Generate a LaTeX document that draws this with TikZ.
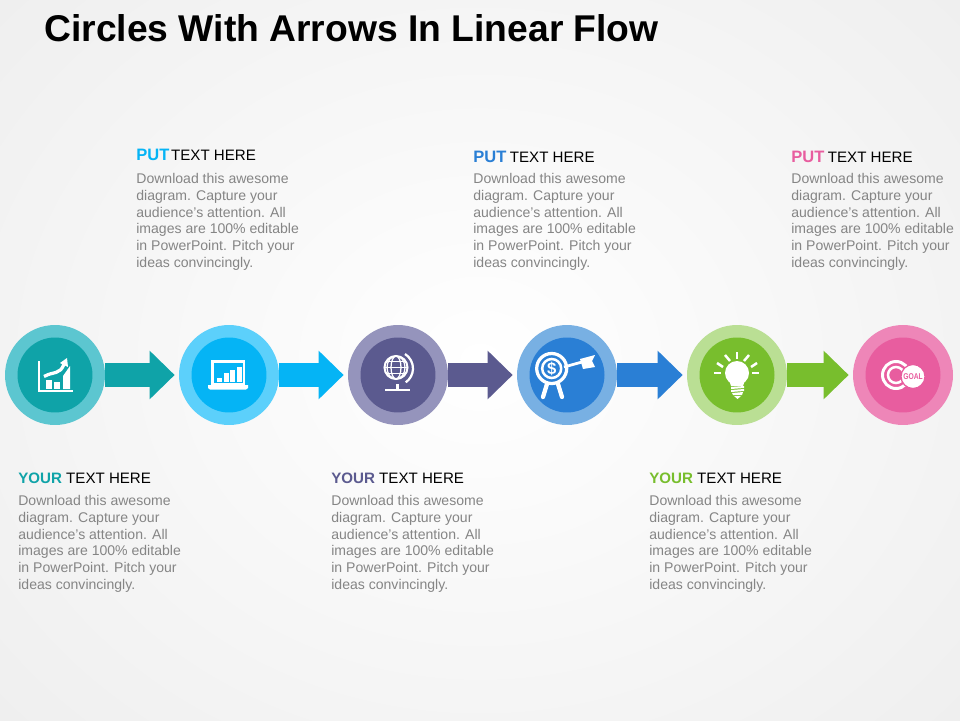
\documentclass[tikz,border=0pt]{standalone}
\usepackage{fontspec}
\setmainfont{Liberation Sans}
\usetikzlibrary{arrows.meta}
\definecolor{tealdark}{HTML}{0FA3A8}
\definecolor{teallight}{HTML}{5CC6D0}
\definecolor{skydark}{HTML}{05B4F5}
\definecolor{skylight}{HTML}{5CD0FB}
\definecolor{slatedark}{HTML}{5B5A8F}
\definecolor{slatelight}{HTML}{9594BC}
\definecolor{bluedark}{HTML}{2A7FD5}
\definecolor{bluelight}{HTML}{78B0E3}
\definecolor{greendark}{HTML}{78BE2D}
\definecolor{greenlight}{HTML}{BADF94}
\definecolor{pinkdark}{HTML}{E85D9F}
\definecolor{pinklight}{HTML}{EE86B8}
\definecolor{bodygray}{HTML}{858585}
\tikzset{
  ring/.style={circle,minimum size=2cm,inner sep=0pt,fill=#1},
  disc/.style={circle,minimum size=1.5cm,inner sep=0pt,fill=#1},
  flow/.style={draw=#1,line width=4.8mm,shorten <=-0.1mm,shorten >=0.8mm,-{Triangle[length=5mm,width=9.4mm,color=#1]}},
  heading/.style={anchor=base west,inner sep=0pt,font=\fontsize{8.6pt}{10pt}\selectfont},
  blurb/.style={anchor=north west,inner sep=0pt,align=left,text=bodygray,font=\fontsize{8pt}{9.55pt}\selectfont},
  icon/.style={white,line width=0.45mm}
}
\newcommand{\blurbtext}{Download this awesome\\diagram. Capture your\\audience's attention. All\\images are 100\% editable\\in PowerPoint. Pitch your\\ideas convincingly.}
\newcommand{\putword}{\fontsize{9.4pt}{10pt}\selectfont\bfseries PUT}
\begin{document}
\begin{tikzpicture}[x=0.02cm,y=-0.02cm]
  \useasboundingbox (0,0) rectangle (960,720);
  \shade[inner color=white,outer color=black!7] (-240,-240) rectangle (1200,960);

  % Title
  \node[anchor=base west,inner sep=0pt,font=\bfseries\fontsize{21.2pt}{24pt}\selectfont] (title) at (44,41) {Circles With Arrows In Linear Flow};

  % Circles
  \node[ring=teallight] (stepa) at (55,375) {};
  \node[ring=skylight] (stepb) at (229,375) {};
  \node[ring=slatelight] (stepc) at (398,375) {};
  \node[ring=bluelight] (stepd) at (567,375) {};
  \node[ring=greenlight] (stepe) at (737,375) {};
  \node[ring=pinklight] (stepf) at (903,375) {};
  \node[disc=tealdark] (inna) at (stepa) {};
  \node[disc=skydark] (innb) at (stepb) {};
  \node[disc=slatedark] (innc) at (stepc) {};
  \node[disc=bluedark] (innd) at (stepd) {};
  \node[disc=greendark] (inne) at (stepe) {};
  \node[disc=pinkdark] (innf) at (stepf) {};

  % Arrows
  \draw[flow=tealdark] (stepa) -- (stepb);
  \draw[flow=skydark] (stepb) -- (stepc);
  \draw[flow=slatedark] (stepc) -- (stepd);
  \draw[flow=bluedark] (stepd) -- (stepe);
  \draw[flow=greendark] (stepe) -- (stepf);

  % Chart icon
  \begin{scope}[icon]
    \draw (39,361) -- (39,391) -- (73,391);
    \fill (46,380) rectangle (52,389);
    \fill (54,382) rectangle (60,389);
    \fill (63,389) -- (63,376) -- (70,366) -- (70,389) -- cycle;
    \draw[line width=0.65mm] (44,376.5) .. controls (54,371) and (60,375) .. (64,364);
    \fill (60,363) -- (67,358) -- (68,367) -- cycle;
  \end{scope}

  % Laptop icon
  \begin{scope}[icon]
    \draw (212.5,361.5) rectangle (244,384);
    \fill (208,385) -- (248,385) -- (248,388) -- (246,389.5) -- (210,389.5) -- (208,388) -- cycle;
    \fill (217,378) rectangle (222,382);
    \fill (224,373) rectangle (229,382);
    \fill (230,370) rectangle (235,382);
    \fill (236.5,367) rectangle (242,382);
  \end{scope}

  % Globe icon
  \begin{scope}[icon,line width=0.25mm]
    \draw[line width=0.4mm] (396,367.5) circle (11.5);
    \draw (396,367.5) ellipse (5 and 11.5);
    \draw (396,367.5) ellipse (9 and 11.5);
    \draw (384.5,367.5) -- (407.5,367.5);
    \draw (386,361.5) -- (406,361.5);
    \draw (386,373.5) -- (406,373.5);
    \draw[line width=0.45mm] (405,354) arc (-58:55:17);
    \draw[line width=0.6mm] (397,384) -- (397,389);
    \fill (385,388.5) rectangle (410,391);
  \end{scope}

  % Target icon
  \begin{scope}[icon]
    \draw[line width=0.65mm] (551.7,368.5) circle (15);
    \draw[line width=0.5mm] (551.7,368.5) circle (9.5);
    \node[text=white,inner sep=0pt,font=\bfseries\fontsize{9.5pt}{9.5pt}\selectfont] (dollar) at (551.7,368.5) {\$};
    \draw[line width=0.85mm,line cap=round] (547,384) -- (543,397);
    \draw[line width=0.85mm,line cap=round] (558,384) -- (562,397);
    \draw[line width=0.55mm] (564,367) -- (582,362);
    \fill (580,359) -- (595,355) -- (592,361) -- (595,367) -- (583,369) -- cycle;
  \end{scope}

  % Bulb icon
  \begin{scope}[icon]
    \fill (737,373) circle (12);
    \fill (729,380) -- (745,380) -- (743,386) -- (731,386) -- cycle;
    \fill (731,387) -- (744,386) -- (744,388) -- (731,389) -- cycle;
    \fill (731,390) -- (744,389) -- (744,391) -- (731,392) -- cycle;
    \fill (732,393) -- (743,392) -- (742,395) -- (733,395) -- cycle;
    \fill (734,396) -- (741,396) -- (737.5,399) -- cycle;
    \draw[line width=0.5mm] (737,352) -- (737,359);
    \draw[line width=0.5mm] (725,355) -- (730,361);
    \draw[line width=0.5mm] (749,355) -- (744,361);
    \draw[line width=0.5mm] (717,363) -- (723,367);
    \draw[line width=0.5mm] (757,363) -- (751,367);
    \draw[line width=0.5mm] (714,373) -- (721,373);
    \draw[line width=0.5mm] (752,373) -- (759,373);
  \end{scope}

  % Goal icon
  \begin{scope}[icon]
    \draw[line width=0.6mm] (896,375) circle (13.5);
    \draw[line width=0.5mm] (896,375) circle (8);
    \fill[draw=pinkdark,line width=0.25mm] (913,376.5) circle (12);
    \node[text=pinkdark,inner sep=0pt,xscale=0.8,font=\bfseries\fontsize{4.8pt}{5pt}\selectfont] (goal) at (913,376.5) {GOAL};
  \end{scope}

  % Labels
  \node[heading] (heada) at (18,483) {\textcolor{tealdark}{\bfseries YOUR} TEXT HERE};
  \node[blurb] (texta) at (18,495) {\blurbtext};
  \node[heading] (headb) at (136,160) {\textcolor{skydark}{\putword}\hspace{1pt}TEXT HERE};
  \node[blurb] (textb) at (136,173) {\blurbtext};
  \node[heading] (headc) at (331,483) {\textcolor{slatedark}{\bfseries YOUR} TEXT HERE};
  \node[blurb] (textc) at (331,495) {\blurbtext};
  \node[heading] (headd) at (473,162) {\textcolor{bluedark}{\putword}\hspace{2pt}TEXT HERE};
  \node[blurb] (textd) at (473,173) {\blurbtext};
  \node[heading] (heade) at (649,483) {\textcolor{greendark}{\bfseries YOUR} TEXT HERE};
  \node[blurb] (texte) at (649,495) {\blurbtext};
  \node[heading] (headf) at (791,162) {\textcolor{pinkdark}{\putword}\hspace{2pt}TEXT HERE};
  \node[blurb] (textf) at (791,173) {\blurbtext};
\end{tikzpicture}
\end{document}
